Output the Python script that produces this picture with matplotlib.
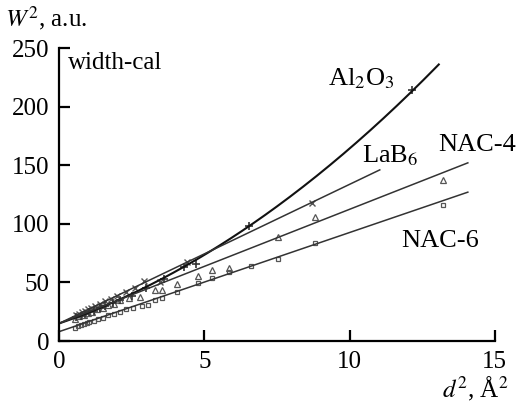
import numpy as np
import matplotlib
matplotlib.use("Agg")
import matplotlib.pyplot as plt

plt.rcParams['font.family'] = ['Liberation Serif', 'DejaVu Serif']
plt.rcParams['mathtext.fontset'] = 'stix'

# Al2O3 points (+)
al_x = [0.6, 0.75, 0.9, 1.05, 1.2, 1.4, 1.6, 1.85, 2.1, 2.5, 3.0, 3.6, 4.3, 4.71, 6.54, 12.14]
al_y = [20.2, 21.8, 23.3, 24.6, 26.0, 28.2, 30.0, 32.5, 35.0, 38.5, 45.0, 53.0, 63.0, 66.0, 98.0, 214.0]
# LaB6 points (x)
lab_x = [0.6, 0.7, 0.8, 0.9, 1.0, 1.1, 1.25, 1.4, 1.6, 1.8, 2.0, 2.3, 2.6, 2.93, 3.47, 4.39, 8.7]
lab_y = [22.0, 23.0, 24.5, 25.5, 27.0, 28.0, 29.5, 31.5, 34.0, 36.0, 38.5, 42.0, 45.5, 51.0, 50.6, 67.7, 118.0]
# NAC-4 points (triangles)
n4_x = [0.55, 0.7, 0.85, 1.0, 1.15, 1.3, 1.5, 1.7, 1.9, 2.1, 2.4, 2.79, 3.3, 3.53, 4.05, 4.79, 5.27, 5.85, 7.53, 8.8, 13.2]
n4_y = [19.0, 21.0, 22.0, 24.0, 25.0, 27.0, 28.5, 31.0, 32.0, 35.0, 37.0, 37.5, 43.5, 43.5, 49.0, 55.5, 60.5, 62.5, 89.0, 106.0, 137.0]
# NAC-6 points (squares)
n6_x = [0.55, 0.65, 0.75, 0.85, 0.95, 1.05, 1.2, 1.35, 1.5, 1.7, 1.9, 2.1, 2.3, 2.55, 2.85, 3.06, 3.3, 3.53, 4.05, 4.79, 5.27, 5.85, 6.6, 7.53, 8.8, 13.2]
n6_y = [11.5, 12.5, 13.5, 14.5, 15.5, 16.5, 17.5, 19.0, 20.0, 22.0, 23.5, 25.0, 27.0, 28.5, 30.0, 30.7, 35.0, 37.0, 42.0, 49.5, 54.0, 58.5, 64.0, 70.0, 83.6, 116.0]

# fitted calibration curves: coefficients (a, b, c) for a + b*x + c*x^2, and x end
al_fit = [15.0, 8.47, 0.6455]
al_end = 13.07
lab_fit = [15.0, 11.87]
lab_end = 11.04
n4_fit = [15.0, 9.74]
n4_end = 14.07
n6_fit = [8.0, 8.46]
n6_end = 14.07

fig = plt.figure(figsize=(5.22, 4.07), dpi=100)
ax = fig.add_axes([0.113, 0.162, 0.835, 0.720])

mc = '#555555'
ax.plot(n6_x, n6_y, 's', ms=3.5, mfc='none', mec=mc, mew=0.9)
ax.plot(n4_x, n4_y, '^', ms=4, mfc='none', mec=mc, mew=0.9)
ax.plot(lab_x, lab_y, 'x', ms=5, color=mc, mew=1.0)
ax.plot(al_x, al_y, '+', ms=5.5, color='#333333', mew=1.2)

xs = np.linspace(0, al_end, 200)
ax.plot(xs, al_fit[0] + al_fit[1]*xs + al_fit[2]*xs**2, color='#111111', lw=1.5)
for fit, end in [(lab_fit, lab_end), (n4_fit, n4_end), (n6_fit, n6_end)]:
    xl = np.array([0, end])
    ax.plot(xl, fit[0] + fit[1]*xl, color='#333333', lw=1.1)

ax.set_xlim(0, 15)
ax.set_ylim(0, 250)
ax.set_xticks([0, 5, 10, 15])
ax.set_yticks([0, 50, 100, 150, 200, 250])
for s in ['top', 'right']:
    ax.spines[s].set_visible(False)
for s in ['left', 'bottom']:
    ax.spines[s].set_linewidth(1.6)
ax.tick_params(direction='in', length=8, width=1.6, labelsize=18, pad=7)

ax.text(0.3, 247, 'width-cal', fontsize=18, va='top', ha='left')
ax.text(10.4, 218, r'Al$_2$O$_3$', fontsize=19, ha='center', va='baseline')
ax.text(10.42, 152, r'LaB$_6$', fontsize=19, ha='left', va='baseline')
ax.text(14.38, 162, 'NAC-4', fontsize=19, ha='center', va='baseline')
ax.text(13.1, 80, 'NAC-6', fontsize=19, ha='center', va='baseline')

fig.text(0.01, 0.99, r'$W^2$, a.u.', fontsize=18, ha='left', va='top')
fig.text(0.975, 0.01, r'$d^2$, Å$^2$', fontsize=18, ha='right', va='bottom')

fig.savefig('out.png', dpi=100)
